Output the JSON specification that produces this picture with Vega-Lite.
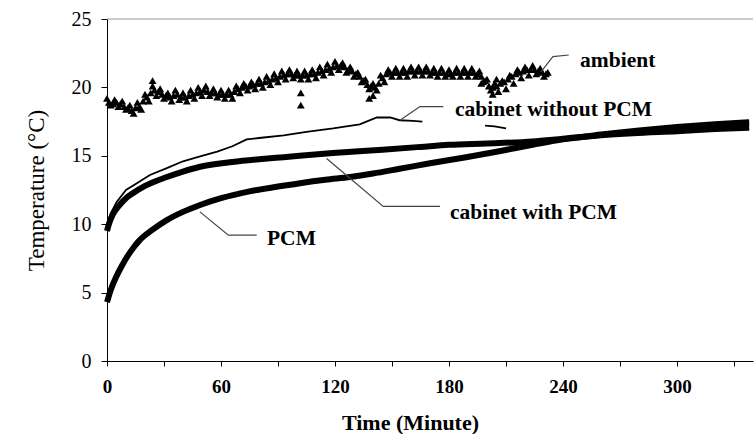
{
  "$schema": "https://vega.github.io/schema/vega-lite/v6.json",
  "width": 646,
  "height": 342,
  "autosize": {"type": "none"},
  "padding": {"left": 107, "top": 19, "right": 2, "bottom": 73},
  "background": "white",
  "config": {
    "view": {"stroke": null},
    "axis": {"grid": false, "domainColor": "#000", "tickColor": "#000", "labelColor": "#000", "titleColor": "#000", "labelFont": "Liberation Serif", "titleFont": "Liberation Serif"}
  },
  "datasets": {
    "curves": [
      {"series": "PCM", "seg": 1, "t": 0, "v": 4.3},
      {"series": "PCM", "seg": 1, "t": 2, "v": 5.2},
      {"series": "PCM", "seg": 1, "t": 5, "v": 6.2},
      {"series": "PCM", "seg": 1, "t": 8, "v": 7.0},
      {"series": "PCM", "seg": 1, "t": 10.5, "v": 7.6},
      {"series": "PCM", "seg": 1, "t": 14, "v": 8.3},
      {"series": "PCM", "seg": 1, "t": 17, "v": 8.8},
      {"series": "PCM", "seg": 1, "t": 24, "v": 9.6},
      {"series": "PCM", "seg": 1, "t": 31.5, "v": 10.3},
      {"series": "PCM", "seg": 1, "t": 40, "v": 10.9},
      {"series": "PCM", "seg": 1, "t": 49, "v": 11.4},
      {"series": "PCM", "seg": 1, "t": 60, "v": 11.9},
      {"series": "PCM", "seg": 1, "t": 75, "v": 12.4},
      {"series": "PCM", "seg": 1, "t": 90, "v": 12.75},
      {"series": "PCM", "seg": 1, "t": 101.6, "v": 13.0},
      {"series": "PCM", "seg": 1, "t": 115, "v": 13.25},
      {"series": "PCM", "seg": 1, "t": 128, "v": 13.45},
      {"series": "PCM", "seg": 1, "t": 140, "v": 13.7},
      {"series": "PCM", "seg": 1, "t": 154, "v": 14.05},
      {"series": "PCM", "seg": 1, "t": 170, "v": 14.45},
      {"series": "PCM", "seg": 1, "t": 189, "v": 14.9},
      {"series": "PCM", "seg": 1, "t": 205, "v": 15.3},
      {"series": "PCM", "seg": 1, "t": 224, "v": 15.8},
      {"series": "PCM", "seg": 1, "t": 240, "v": 16.2},
      {"series": "PCM", "seg": 1, "t": 260, "v": 16.55},
      {"series": "PCM", "seg": 1, "t": 280, "v": 16.85},
      {"series": "PCM", "seg": 1, "t": 300, "v": 17.1},
      {"series": "PCM", "seg": 1, "t": 320, "v": 17.3},
      {"series": "PCM", "seg": 1, "t": 338, "v": 17.45},
      {"series": "with", "seg": 1, "t": 0, "v": 9.5},
      {"series": "with", "seg": 1, "t": 1, "v": 10.0},
      {"series": "with", "seg": 1, "t": 3, "v": 10.7},
      {"series": "with", "seg": 1, "t": 6, "v": 11.3},
      {"series": "with", "seg": 1, "t": 10, "v": 11.9},
      {"series": "with", "seg": 1, "t": 14, "v": 12.3},
      {"series": "with", "seg": 1, "t": 20, "v": 12.8},
      {"series": "with", "seg": 1, "t": 31.5, "v": 13.45},
      {"series": "with", "seg": 1, "t": 40, "v": 13.85},
      {"series": "with", "seg": 1, "t": 49, "v": 14.2},
      {"series": "with", "seg": 1, "t": 66, "v": 14.55},
      {"series": "with", "seg": 1, "t": 80, "v": 14.75},
      {"series": "with", "seg": 1, "t": 93, "v": 14.9},
      {"series": "with", "seg": 1, "t": 119, "v": 15.2},
      {"series": "with", "seg": 1, "t": 145, "v": 15.45},
      {"series": "with", "seg": 1, "t": 165, "v": 15.65},
      {"series": "with", "seg": 1, "t": 180, "v": 15.8},
      {"series": "with", "seg": 1, "t": 200, "v": 15.9},
      {"series": "with", "seg": 1, "t": 224, "v": 16.05},
      {"series": "with", "seg": 1, "t": 240, "v": 16.25},
      {"series": "with", "seg": 1, "t": 260, "v": 16.5},
      {"series": "with", "seg": 1, "t": 277, "v": 16.65},
      {"series": "with", "seg": 1, "t": 300, "v": 16.8},
      {"series": "with", "seg": 1, "t": 320, "v": 16.95},
      {"series": "with", "seg": 1, "t": 338, "v": 17.05},
      {"series": "without", "seg": 1, "t": 0, "v": 10.0},
      {"series": "without", "seg": 1, "t": 2, "v": 10.8},
      {"series": "without", "seg": 1, "t": 5, "v": 11.6},
      {"series": "without", "seg": 1, "t": 10, "v": 12.5},
      {"series": "without", "seg": 1, "t": 17, "v": 13.1},
      {"series": "without", "seg": 1, "t": 22.6, "v": 13.6},
      {"series": "without", "seg": 1, "t": 31.5, "v": 14.1},
      {"series": "without", "seg": 1, "t": 40, "v": 14.6},
      {"series": "without", "seg": 1, "t": 49, "v": 14.95},
      {"series": "without", "seg": 1, "t": 58, "v": 15.3},
      {"series": "without", "seg": 1, "t": 66, "v": 15.7},
      {"series": "without", "seg": 1, "t": 73.5, "v": 16.2},
      {"series": "without", "seg": 1, "t": 80, "v": 16.3},
      {"series": "without", "seg": 1, "t": 93, "v": 16.5},
      {"series": "without", "seg": 1, "t": 105, "v": 16.75},
      {"series": "without", "seg": 1, "t": 119, "v": 17.0},
      {"series": "without", "seg": 1, "t": 133, "v": 17.3},
      {"series": "without", "seg": 1, "t": 142, "v": 17.8},
      {"series": "without", "seg": 1, "t": 149, "v": 17.8},
      {"series": "without", "seg": 1, "t": 154, "v": 17.6},
      {"series": "without", "seg": 1, "t": 161, "v": 17.55},
      {"series": "without", "seg": 1, "t": 166, "v": 17.5},
      {"series": "without", "seg": 2, "t": 199, "v": 17.2},
      {"series": "without", "seg": 2, "t": 204, "v": 17.15},
      {"series": "without", "seg": 2, "t": 210, "v": 17.0}
    ],
    "ambient": [
      {"t": 0, "v": 19.2}, {"t": 2, "v": 18.7}, {"t": 4, "v": 19.1}, {"t": 6, "v": 18.6}, {"t": 8, "v": 19.0},
      {"t": 10, "v": 18.4}, {"t": 12, "v": 18.7}, {"t": 14, "v": 18.1}, {"t": 16, "v": 18.9}, {"t": 18, "v": 18.4},
      {"t": 20, "v": 19.5}, {"t": 22, "v": 19.0}, {"t": 24, "v": 20.1}, {"t": 26, "v": 19.4}, {"t": 28, "v": 19.9},
      {"t": 30, "v": 19.2}, {"t": 32, "v": 19.6}, {"t": 34, "v": 19.0}, {"t": 36, "v": 19.8}, {"t": 38, "v": 19.1},
      {"t": 40, "v": 19.6}, {"t": 42, "v": 19.0}, {"t": 44, "v": 19.8}, {"t": 46, "v": 19.2}, {"t": 48, "v": 20.0},
      {"t": 50, "v": 19.4}, {"t": 52, "v": 20.1}, {"t": 54, "v": 19.4}, {"t": 56, "v": 19.9}, {"t": 58, "v": 19.3},
      {"t": 60, "v": 19.8}, {"t": 62, "v": 19.2}, {"t": 64, "v": 19.8}, {"t": 66, "v": 19.2}, {"t": 68, "v": 20.1},
      {"t": 70, "v": 19.6}, {"t": 72, "v": 20.3}, {"t": 74, "v": 19.8}, {"t": 76, "v": 20.4}, {"t": 78, "v": 19.9},
      {"t": 80, "v": 20.6}, {"t": 82, "v": 20.0}, {"t": 84, "v": 20.8}, {"t": 86, "v": 20.2}, {"t": 88, "v": 21.0},
      {"t": 90, "v": 20.4}, {"t": 92, "v": 21.2}, {"t": 94, "v": 20.6}, {"t": 96, "v": 21.3}, {"t": 98, "v": 20.7},
      {"t": 100, "v": 21.2}, {"t": 102, "v": 20.6}, {"t": 104, "v": 21.2}, {"t": 106, "v": 20.6}, {"t": 108, "v": 21.3},
      {"t": 110, "v": 20.7}, {"t": 112, "v": 21.5}, {"t": 114, "v": 20.9}, {"t": 116, "v": 21.7}, {"t": 118, "v": 21.1},
      {"t": 120, "v": 21.9}, {"t": 122, "v": 21.3}, {"t": 124, "v": 21.8}, {"t": 126, "v": 21.1}, {"t": 128, "v": 21.5},
      {"t": 130, "v": 20.8}, {"t": 132, "v": 21.1}, {"t": 134, "v": 20.4}, {"t": 136, "v": 20.6}, {"t": 138, "v": 19.9},
      {"t": 140, "v": 20.3}, {"t": 142, "v": 19.8}, {"t": 144, "v": 20.9}, {"t": 146, "v": 20.4}, {"t": 148, "v": 21.3},
      {"t": 150, "v": 20.8}, {"t": 152, "v": 21.4}, {"t": 154, "v": 20.8}, {"t": 156, "v": 21.4}, {"t": 158, "v": 20.8},
      {"t": 160, "v": 21.5}, {"t": 162, "v": 20.9}, {"t": 164, "v": 21.5}, {"t": 166, "v": 20.9}, {"t": 168, "v": 21.5},
      {"t": 170, "v": 20.9}, {"t": 172, "v": 21.4}, {"t": 174, "v": 20.8}, {"t": 176, "v": 21.4}, {"t": 178, "v": 20.8},
      {"t": 180, "v": 21.3}, {"t": 182, "v": 20.8}, {"t": 184, "v": 21.4}, {"t": 186, "v": 20.8}, {"t": 188, "v": 21.4},
      {"t": 190, "v": 20.8}, {"t": 192, "v": 21.4}, {"t": 194, "v": 20.8}, {"t": 196, "v": 21.2}, {"t": 198, "v": 20.4},
      {"t": 200, "v": 20.6}, {"t": 202, "v": 19.8}, {"t": 204, "v": 20.3}, {"t": 206, "v": 19.7}, {"t": 208, "v": 20.5},
      {"t": 210, "v": 19.9}, {"t": 212, "v": 20.9}, {"t": 214, "v": 20.3}, {"t": 216, "v": 21.3}, {"t": 218, "v": 20.7},
      {"t": 220, "v": 21.5}, {"t": 222, "v": 20.9}, {"t": 224, "v": 21.6}, {"t": 226, "v": 21.0}, {"t": 228, "v": 21.4},
      {"t": 230, "v": 20.8}, {"t": 232, "v": 21.1},
      {"t": 1, "v": 18.9}, {"t": 3, "v": 18.8}, {"t": 5, "v": 18.9}, {"t": 7, "v": 18.8}, {"t": 9, "v": 18.6},
      {"t": 11, "v": 18.5}, {"t": 13, "v": 18.3}, {"t": 15, "v": 18.5}, {"t": 17, "v": 18.6}, {"t": 19, "v": 19.0},
      {"t": 21, "v": 19.3}, {"t": 23, "v": 19.6}, {"t": 25, "v": 19.8}, {"t": 27, "v": 19.7}, {"t": 29, "v": 19.5},
      {"t": 31, "v": 19.4}, {"t": 33, "v": 19.3}, {"t": 35, "v": 19.4}, {"t": 37, "v": 19.5}, {"t": 39, "v": 19.3},
      {"t": 41, "v": 19.3}, {"t": 43, "v": 19.4}, {"t": 45, "v": 19.5}, {"t": 47, "v": 19.6}, {"t": 49, "v": 19.7},
      {"t": 51, "v": 19.8}, {"t": 53, "v": 19.7}, {"t": 55, "v": 19.6}, {"t": 57, "v": 19.6}, {"t": 59, "v": 19.5},
      {"t": 61, "v": 19.5}, {"t": 63, "v": 19.5}, {"t": 65, "v": 19.5}, {"t": 67, "v": 19.7}, {"t": 69, "v": 19.9},
      {"t": 71, "v": 20.0}, {"t": 73, "v": 20.1}, {"t": 75, "v": 20.1}, {"t": 77, "v": 20.2}, {"t": 79, "v": 20.3},
      {"t": 81, "v": 20.3}, {"t": 83, "v": 20.4}, {"t": 85, "v": 20.5}, {"t": 87, "v": 20.6}, {"t": 89, "v": 20.7},
      {"t": 91, "v": 20.8}, {"t": 93, "v": 20.9}, {"t": 95, "v": 21.0}, {"t": 97, "v": 21.0}, {"t": 99, "v": 20.9},
      {"t": 101, "v": 20.9}, {"t": 103, "v": 20.9}, {"t": 105, "v": 20.9}, {"t": 107, "v": 21.0}, {"t": 109, "v": 21.0},
      {"t": 111, "v": 21.1}, {"t": 113, "v": 21.2}, {"t": 115, "v": 21.3}, {"t": 117, "v": 21.4}, {"t": 119, "v": 21.5},
      {"t": 121, "v": 21.6}, {"t": 123, "v": 21.6}, {"t": 125, "v": 21.5}, {"t": 127, "v": 21.3}, {"t": 129, "v": 21.2},
      {"t": 131, "v": 21.0}, {"t": 133, "v": 20.8}, {"t": 135, "v": 20.5}, {"t": 137, "v": 20.2}, {"t": 139, "v": 20.1},
      {"t": 141, "v": 20.0}, {"t": 143, "v": 20.3}, {"t": 145, "v": 20.7}, {"t": 147, "v": 21.0}, {"t": 149, "v": 21.1},
      {"t": 151, "v": 21.1}, {"t": 153, "v": 21.1}, {"t": 155, "v": 21.1}, {"t": 157, "v": 21.1}, {"t": 159, "v": 21.2},
      {"t": 161, "v": 21.2}, {"t": 163, "v": 21.2}, {"t": 165, "v": 21.2}, {"t": 167, "v": 21.2}, {"t": 169, "v": 21.2},
      {"t": 171, "v": 21.1}, {"t": 173, "v": 21.1}, {"t": 175, "v": 21.1}, {"t": 177, "v": 21.1}, {"t": 179, "v": 21.0},
      {"t": 181, "v": 21.0}, {"t": 183, "v": 21.1}, {"t": 185, "v": 21.1}, {"t": 187, "v": 21.1}, {"t": 189, "v": 21.1},
      {"t": 191, "v": 21.1}, {"t": 193, "v": 21.1}, {"t": 195, "v": 21.0}, {"t": 197, "v": 20.8}, {"t": 199, "v": 20.5},
      {"t": 201, "v": 20.1}, {"t": 203, "v": 20.0}, {"t": 205, "v": 20.1}, {"t": 207, "v": 20.3}, {"t": 209, "v": 20.4},
      {"t": 211, "v": 20.6}, {"t": 213, "v": 20.8}, {"t": 215, "v": 21.0}, {"t": 217, "v": 21.1}, {"t": 219, "v": 21.2},
      {"t": 221, "v": 21.3}, {"t": 223, "v": 21.3}, {"t": 225, "v": 21.3}, {"t": 227, "v": 21.2}, {"t": 229, "v": 21.1},
      {"t": 231, "v": 21.0},
      {"t": 24, "v": 20.5}, {"t": 102, "v": 19.6}, {"t": 102, "v": 18.7}, {"t": 138, "v": 19.2}, {"t": 140, "v": 19.4},
      {"t": 203, "v": 19.5}, {"t": 205, "v": 20.6}, {"t": 197, "v": 20.3}
    ],
    "leaders": [
      {"id": "ambient", "t": 228.5, "v": 21.15}, {"id": "ambient", "t": 234.7, "v": 22.25}, {"id": "ambient", "t": 243, "v": 22.37},
      {"id": "without", "t": 154.2, "v": 17.6}, {"id": "without", "t": 164.7, "v": 18.6}, {"id": "without", "t": 177, "v": 18.6},
      {"id": "with", "t": 115.6, "v": 14.8}, {"id": "with", "t": 145.4, "v": 11.3}, {"id": "with", "t": 175.3, "v": 11.3},
      {"id": "pcm", "t": 48.9, "v": 10.9}, {"id": "pcm", "t": 63.9, "v": 9.2}, {"id": "pcm", "t": 78.8, "v": 9.2}
    ],
    "labels": [
      {"label": "ambient", "t": 249, "v": 21.95},
      {"label": "cabinet  without PCM", "t": 183.2, "v": 18.35},
      {"label": "cabinet with PCM", "t": 180.5, "v": 10.85},
      {"label": "PCM", "t": 84.2, "v": 8.9}
    ]
  },
  "encoding": {
    "x": {"field": "t", "type": "quantitative", "scale": {"domain": [0, 340], "nice": false}, "title": "Time (Minute)",
      "axis": {"values": [0, 30, 60, 90, 120, 150, 180, 210, 240, 270, 300, 330], "labelExpr": "datum.value % 60 == 0 ? datum.label : ''", "tickSize": 5, "labelFontSize": 19, "labelFontWeight": "bold", "labelPadding": 11, "titleFontSize": 22, "titleFontWeight": "bold", "titlePadding": 16, "titleX": 303, "labelFlush": false, "labelOverlap": false}},
    "y": {"field": "v", "type": "quantitative", "scale": {"domain": [0, 25], "nice": false}, "title": "Temperature (°C)",
      "axis": {"values": [0, 5, 10, 15, 20, 25], "tickSize": 6, "labelFontSize": 20, "labelPadding": 10, "titleFontSize": 23, "titleFontWeight": "normal", "titlePadding": 23}}
  },
  "layer": [
    {"data": {"values": [{"v": 25}]}, "mark": {"type": "rule", "color": "#999", "strokeWidth": 1}, "encoding": {"x": null, "y": {"field": "v", "type": "quantitative"}}},
    {"data": {"name": "curves"}, "transform": [{"filter": "datum.series == 'without'"}], "mark": {"type": "line", "color": "#000", "strokeWidth": 1.8}, "encoding": {"detail": {"field": "seg"}}},
    {"data": {"name": "curves"}, "transform": [{"filter": "datum.series == 'with'"}], "mark": {"type": "line", "color": "#000", "strokeWidth": 6, "interpolate": "monotone"}},
    {"data": {"name": "curves"}, "transform": [{"filter": "datum.series == 'PCM'"}], "mark": {"type": "line", "color": "#000", "strokeWidth": 6, "interpolate": "monotone"}},
    {"data": {"name": "ambient"}, "mark": {"type": "point", "shape": "triangle-up", "filled": true, "color": "#000", "size": 62, "opacity": 1}},
    {"data": {"name": "leaders"}, "mark": {"type": "line", "color": "#444", "strokeWidth": 1.2}, "encoding": {"detail": {"field": "id"}}},
    {"data": {"name": "labels"}, "mark": {"type": "text", "align": "left", "baseline": "middle", "font": "Liberation Serif", "fontWeight": "bold", "fontSize": 21.5, "color": "#000"}, "encoding": {"text": {"field": "label"}}}
  ]
}
